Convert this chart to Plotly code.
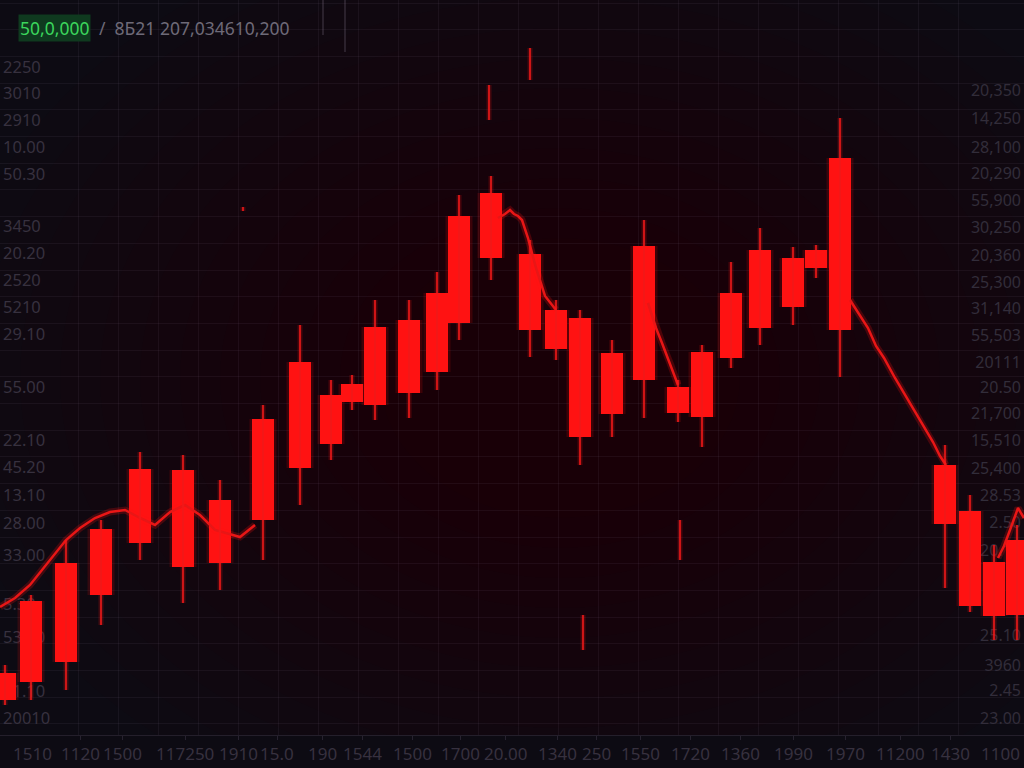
import plotly.graph_objects as go

# ---------------- data ----------------
# candle time positions (axis units) and OHLC (price units)
t = [5, 31, 66, 101, 140, 183, 220, 263, 300, 331, 352, 375, 409, 437, 459, 491,
     530, 556, 580, 612, 644, 678, 702, 731, 760, 793, 816, 840, 945, 970, 994, 1017]
open_ = [95, 167, 205, 239, 299, 298, 268, 349, 406, 373, 384, 441, 448, 475, 552, 575,
         514, 458, 450, 415, 522, 381, 416, 475, 518, 510, 518, 610, 303, 257, 206, 228]
close = [68, 86, 106, 173, 225, 201, 205, 248, 300, 324, 366, 363, 375, 396, 445, 510,
         438, 419, 331, 354, 388, 355, 351, 410, 440, 461, 500, 438, 244, 162, 152, 153]
high = [103, 173, 228, 248, 316, 313, 288, 363, 443, 388, 393, 468, 468, 496, 573, 592,
        528, 468, 458, 428, 548, 388, 423, 506, 540, 521, 523, 650, 323, 273, 223, 243]
low = [63, 68, 78, 143, 208, 165, 178, 208, 263, 308, 358, 348, 350, 378, 428, 488,
       411, 408, 303, 331, 350, 346, 321, 400, 423, 443, 490, 391, 180, 156, 128, 128]

# stray ticks (time, top, bottom)
spike_t = [530, 489, 680, 583, 243]
spike_hi = [720, 683, 248, 153, 561]
spike_lo = [688, 648, 208, 118, 557]

# trend line (None = gap)
line_t = [0, 15, 30, 50, 66, 80, 95, 110, 125, 140, 155, 170, 185, 200, 215, 240, 255, None,
          498, 505, 510, 514, 518, 522, 528, 536, 545, 556, None,
          648, 656, 662, 670, 678, None,
          850, 860, 868, 876, 884, 895, 905, 915, 925, 933, 940, 946, None,
          998, 1004, 1010, 1018, 1024]
line_v = [161, 170, 183, 208, 228, 240, 250, 256, 258, 250, 243, 256, 263, 253, 238, 231, 243, None,
          550, 554, 558, 554, 552, 548, 530, 500, 472, 458, None,
          465, 440, 425, 405, 383, None,
          468, 452, 440, 422, 410, 390, 373, 356, 340, 326, 312, 303, None,
          210, 222, 238, 260, 250]

# tick labels
x_tick_pos = [32, 80, 122, 185, 238, 277, 322, 362, 412, 460, 505, 557, 596, 640, 690, 740,
              793, 845, 900, 950, 1000]
x_tick_txt = ["1510", "1120", "1500", "117250", "1910", "15.0", "190", "1544", "1500", "1700",
              "20.00", "1340", "250", "1550", "1720", "1360", "1990", "1970", "11200", "1430", "1100"]

left_pos = [701, 675, 648, 621, 594, 542, 515, 488, 461, 434, 381, 328, 301, 273, 245, 213,
            164, 131, 77, 50]
left_txt = ["2250", "3010", "2910", "10.00", "50.30", "3450", "20.20", "2520", "5210", "29.10",
            "55.00", "22.10", "45.20", "13.10", "28.00", "33.00", "5.30", "53.10", "21.10", "20010"]

right_pos = [678, 650, 621, 595, 568, 541, 513, 486, 460, 433, 406, 381, 355, 328, 300, 273,
             246, 218, 133, 103, 78, 50]
right_txt = ["20,350", "14,250", "28,100", "20,290", "55,900", "30,250", "20,360", "25,300",
             "31,140", "55,503", "20111", "20.50", "21,700", "15,510", "25,400", "28.53",
             "2.50", "20.10", "25.10", "3960", "2.45", "23.00"]

# ---------------- styles ----------------
RED = "#ff1212"
LABEL = "#37313f"
BG = "#0d0b13"

fig = go.Figure()

# trend line glow + line
fig.add_trace(go.Scatter(x=line_t, y=line_v, mode="lines", connectgaps=False,
                         line=dict(color="rgba(255,20,20,0.22)", width=7), hoverinfo="skip"))
fig.add_trace(go.Scatter(x=line_t, y=line_v, mode="lines", connectgaps=False,
                         line=dict(color="#e81616", width=2.5), hoverinfo="skip"))

# wicks
wx, wy = [], []
for ti, h, l in zip(t, high, low):
    wx += [ti, ti, None]
    wy += [l, h, None]
for ti, h, l in zip(spike_t, spike_hi, spike_lo):
    wx += [ti, ti, None]
    wy += [l, h, None]
fig.add_trace(go.Scatter(x=wx, y=wy, mode="lines", line=dict(color="rgba(255,20,20,0.22)", width=5),
                         hoverinfo="skip"))
fig.add_trace(go.Scatter(x=wx, y=wy, mode="lines", line=dict(color="#f01a1a", width=1.6),
                         hoverinfo="skip"))

# bodies: glow then solid
body_len = [o - c for o, c in zip(open_, close)]
fig.add_trace(go.Bar(x=t, y=body_len, base=close, width=27,
                     marker=dict(color="rgba(255,15,15,0.16)", line=dict(width=0)), hoverinfo="skip"))
fig.add_trace(go.Bar(x=t, y=body_len, base=close, width=22,
                     marker=dict(color=RED, line=dict(width=0)), hoverinfo="skip"))

# invisible trace for right axis
fig.add_trace(go.Scatter(x=[0], y=[400], yaxis="y2", mode="markers", marker=dict(opacity=0),
                         hoverinfo="skip"))

# background glow (decoration)
shapes = []
steps = 12
for i in range(steps):
    rx = 620 - i * 40
    ry = 470 - i * 30
    cx, cy = 560, 390
    shapes.append(dict(type="circle", xref="x", yref="y", x0=cx - rx, x1=cx + rx,
                       y0=cy - ry, y1=cy + ry, fillcolor="rgba(110,12,26,0.014)",
                       line=dict(width=0), layer="below"))
# faint grey marks at top
for xv, yb in [(323, 733), (345, 716)]:
    shapes.append(dict(type="line", xref="x", yref="y", x0=xv, x1=xv, y0=yb, y1=768,
                       line=dict(color="rgba(120,110,130,0.35)", width=1.5), layer="below"))

annotations = [
    dict(x=18, y=740, xref="x", yref="y", text="50,0,000", showarrow=False, xanchor="left",
         yanchor="middle", font=dict(family="Noto Sans", size=17.5, color="#3bd65c"),
         bgcolor="#0f3a1f", borderpad=1),
    dict(x=97, y=740, xref="x", yref="y", text="/  8Б21 207,034610,200", showarrow=False,
         xanchor="left", yanchor="middle", font=dict(family="Noto Sans", size=17.5, color="#6e6a78")),
]
for xp, tx in zip(x_tick_pos, x_tick_txt):
    annotations.append(dict(x=xp, y=0, xref="x", yref="paper", text=tx, showarrow=False,
                            xanchor="center", yanchor="top", yshift=-5,
                            font=dict(family="Noto Sans", size=17, color=LABEL)))

grid_col = "rgba(140,120,150,0.09)"

fig.update_layout(
    width=1024, height=768,
    margin=dict(l=0, r=0, t=0, b=33),
    paper_bgcolor=BG,
    plot_bgcolor=BG,
    showlegend=False,
    barmode="overlay",
    shapes=shapes,
    annotations=annotations,
    font=dict(family="Noto Sans"),
    xaxis=dict(range=[0, 1024], tickvals=x_tick_pos, showticklabels=False,
               showgrid=False, zeroline=False,
               showline=True, linecolor="rgba(120,105,130,0.22)", ticks="outside", ticklen=4,
               tickcolor="rgba(120,105,130,0.25)",
               minor=dict(dtick=40, tick0=38, showgrid=True, gridcolor=grid_col, ticks=""),
               fixedrange=True),
    yaxis=dict(range=[33, 768], tickvals=left_pos, ticktext=left_txt,
               ticklabelposition="inside", tickfont=dict(size=16.5, color=LABEL),
               showgrid=False, zeroline=False, showline=False, ticks="",
               layer="below traces",
               minor=dict(dtick=26.7, tick0=498, showgrid=True, gridcolor=grid_col, ticks="")),
    yaxis2=dict(range=[33, 768], overlaying="y", side="right", tickvals=right_pos,
                ticktext=right_txt, ticklabelposition="inside",
                tickfont=dict(size=16, color="#322d3a"), showgrid=False, zeroline=False,
                showline=False, ticks="", layer="below traces"),
)

fig.write_html(
    "out.html",
    config={"displayModeBar": False},
    post_script="document.body.style.margin='0';document.body.style.overflow='hidden';"
                "document.body.style.background='" + BG + "';",
)
